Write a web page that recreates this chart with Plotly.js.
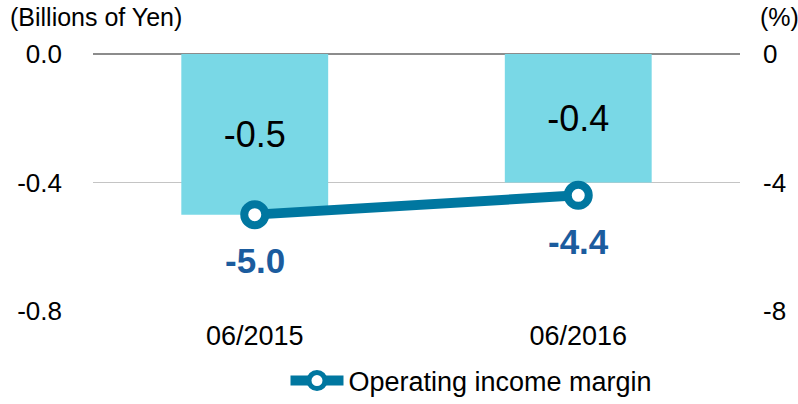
<!DOCTYPE html>
<html><head><meta charset="utf-8">
<script src="https://cdn.plot.ly/plotly-3.0.1.min.js"></script>
<style>html,body{margin:0;padding:0;background:#fff}</style>
</head><body>
<div id="chart" style="width:798px;height:404px"></div>
<script>
const categories = ['06/2015', '06/2016'];
const operatingIncome = [-0.5, -0.4];
const operatingMargin = [-5.0, -4.4];
const leftTicks = [0, -0.4, -0.8];
const leftTickText = ['0.0', '-0.4', '-0.8'];
const rightTicks = [0, -4, -8];
const rightTickText = ['0', '-4', '-8'];

const font = 'Liberation Sans, Arial, sans-serif';

const barTrace = {
  type: 'bar', x: categories, y: operatingIncome,
  marker: {color: '#79d8e6'}, width: 0.454,
  text: operatingIncome.map(v => v.toFixed(1)),
  textposition: 'inside', insidetextanchor: 'middle',
  textfont: {family: font, size: 36, color: '#000'},
  showlegend: false, hoverinfo: 'skip', cliponaxis: false
};
const lineTrace = {
  type: 'scatter', mode: 'lines+markers', x: categories, y: operatingMargin, yaxis: 'y2',
  name: 'Operating income margin',
  line: {color: '#0077a0', width: 10},
  marker: {size: 21, color: '#ffffff', line: {color: '#0077a0', width: 8}},
  cliponaxis: false
};

const annotations = operatingMargin.map((v, i) => ({
  x: categories[i], y: v, xref: 'x', yref: 'y2', text: '<b>' + v.toFixed(1) + '</b>',
  showarrow: false, yshift: -46, font: {family: font, size: 35, color: '#1b5c9e'}
}));
annotations.push({xref: 'paper', yref: 'paper', x: -0.131, y: 1.0, yshift: 37, xanchor: 'left', yanchor: 'middle',
  text: '(Billions of Yen)', showarrow: false, font: {family: font, size: 25, color: '#000'}});
annotations.push({xref: 'paper', yref: 'paper', x: 1.0, xshift: 18, y: 1.0, yshift: 37, xanchor: 'left', yanchor: 'middle',
  text: '(%)', showarrow: false, font: {family: font, size: 25, color: '#000'}});

const layout = {
  width: 798, height: 404,
  margin: {l: 92.5, r: 57.5, t: 54, b: 93},
  paper_bgcolor: '#fff', plot_bgcolor: '#fff',
  font: {family: font, color: '#000'},
  xaxis: {type: 'category', range: [-0.5, 1.5], showgrid: false, zeroline: false, showline: false,
    tickfont: {family: font, size: 27}, ticks: '', ticklabelstandoff: 6, automargin: false},
  yaxis: {range: [-0.8, 0], tickvals: leftTicks, ticktext: leftTickText, showgrid: true,
    gridcolor: '#c4c4c4', gridwidth: 1.5, zeroline: true, zerolinecolor: '#8c8c8c', zerolinewidth: 2.5,
    showline: false, tickfont: {family: font, size: 26}, ticklabelstandoff: 30, automargin: false},
  yaxis2: {range: [-8, 0], overlaying: 'y', side: 'right', tickvals: rightTicks, ticktext: rightTickText,
    showgrid: false, zeroline: false, showline: false, tickfont: {family: font, size: 26}, ticklabelstandoff: 22, automargin: false},
  legend: {orientation: 'h', xref: 'paper', x: 0.585, xanchor: 'center', yref: 'container', y: 0.057, yanchor: 'middle',
    font: {family: font, size: 27}, itemwidth: 53},
  annotations: annotations,
  showlegend: true
};

Plotly.newPlot('chart', [barTrace, lineTrace], layout, {displayModeBar: false, staticPlot: true});
</script>
</body></html>
